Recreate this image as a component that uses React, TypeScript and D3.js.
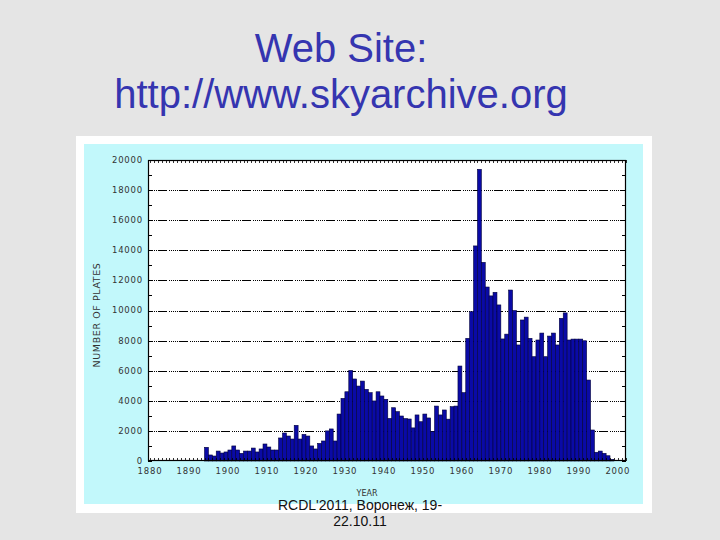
import React from 'react';
import * as d3 from 'd3';

// ---- data ----
const firstYear = 1894;
const plateCounts = [
  910, 400, 330, 660, 530, 600, 730, 1000, 730, 510, // 1894-1903
  660, 660, 860, 600, 800, 1130, 930, 730, 730, 1530, // 1904-1913
  1860, 1660, 1460, 2370, 1460, 1770, 1660, 1000, 800, 1170, // 1914-1923
  1330, 2000, 2130, 1330, 3120, 4160, 4600, 6020, 5450, 4980, // 1924-1933
  5310, 4760, 4540, 3990, 4600, 4320, 4100, 2830, 3540, 3280, // 1934-1943
  2990, 2820, 2790, 2200, 3060, 2610, 3120, 2860, 1950, 3650, // 1944-1953
  3060, 3390, 2780, 3610, 3650, 6310, 4540, 8150, 9920, 14290, // 1954-1963
  19380, 13200, 11560, 10970, 11210, 10370, 8110, 8430, 11360, 10000, // 1964-1973
  7710, 9370, 9560, 8150, 6930, 8040, 8500, 6930, 8300, 8500, // 1974-1983
  7710, 9480, 9840, 8040, 8100, 8100, 8100, 7990, 5380, 2060, // 1984-1993
  580, 660, 510, 350, 110, // 1994-1998
];
const years = plateCounts.map((_, i) => firstYear + i);
const xTickLabels = [1880, 1890, 1900, 1910, 1920, 1930, 1940, 1950, 1960, 1970, 1980, 1990, 2000];
const yTickLabels = [0, 2000, 4000, 6000, 8000, 10000, 12000, 14000, 16000, 18000, 20000];
const titleLines = ['Web Site:', 'http://www.skyarchive.org'];
const footerLines = ["RCDL'2011, Воронеж, 19-", '22.10.11'];
const xAxisTitle = 'YEAR';
const yAxisTitle = 'NUMBER OF PLATES';

// ---- layout ----
const W = 720, H = 540;
const plot = { left: 148, right: 626, top: 160, bottom: 461 };
const xDomain: [number, number] = [1879.5, 2002.1];

export default function App() {
  const x = d3.scaleLinear().domain(xDomain).range([plot.left, plot.right]);
  const y = d3.scaleLinear().domain([0, 20000]).range([plot.bottom, plot.top]);
  const minorY = d3.range(0, 20001, 1000);
  const minorX = d3.range(Math.ceil(xDomain[0]), Math.floor(xDomain[1]) + 1, 1);
  const font = "'Liberation Sans', Arial, Helvetica, sans-serif";
  const axisFont = "'DejaVu Sans', 'Liberation Sans', sans-serif";

  return (
    <svg width={W} height={H} style={{ position: 'absolute', left: 0, top: 0 }} xmlns="http://www.w3.org/2000/svg">
      <rect x={0} y={0} width={W} height={H} fill="#e5e5e5" />
      {titleLines.map((t, i) => (
        <text key={i} x={341} y={62 + i * 46} textAnchor="middle" fontFamily={font} fontSize={40} fill="#3535b0">{t}</text>
      ))}
      <rect x={76} y={136} width={576} height={377} fill="#ffffff" />
      <rect x={84} y={144} width={559} height={360} fill="#c2f8fb" />
      <rect x={plot.left} y={plot.top} width={plot.right - plot.left} height={plot.bottom - plot.top} fill="#ffffff" />

      {/* gridlines */}
      {yTickLabels.filter(v => v > 0 && v < 20000).map(v => (
        <line key={'g' + v} x1={plot.left} x2={plot.right} y1={Math.round(y(v)) + 0.5} y2={Math.round(y(v)) + 0.5}
          stroke="#000" strokeWidth={1} strokeDasharray="1 1 1 1 1 1 1 1 1 1 9 2" />
      ))}

      {/* bars */}
      {plateCounts.map((v, i) => (
        <rect key={'b' + i} x={x(years[i])} y={y(v)} width={x(years[i] + 1) - x(years[i])} height={y(0) - y(v)}
          fill="#0a0aa6" stroke="#00003a" strokeWidth={0.6} />
      ))}

      {/* minor ticks */}
      {minorY.map(v => (
        <g key={'my' + v}>
          <line x1={plot.left} x2={plot.left + 4} y1={Math.round(y(v)) + 0.5} y2={Math.round(y(v)) + 0.5} stroke="#000" strokeWidth={1} />
          <line x1={plot.right - 4} x2={plot.right} y1={Math.round(y(v)) + 0.5} y2={Math.round(y(v)) + 0.5} stroke="#000" strokeWidth={1} />
        </g>
      ))}
      {minorX.map(v => (
        <g key={'mx' + v}>
          <line x1={Math.round(x(v)) + 0.5} x2={Math.round(x(v)) + 0.5} y1={plot.top} y2={plot.top + 3} stroke="#000" strokeWidth={0.8} />
          <line x1={Math.round(x(v)) + 0.5} x2={Math.round(x(v)) + 0.5} y1={plot.bottom - 3} y2={plot.bottom} stroke="#000" strokeWidth={0.8} />
        </g>
      ))}

      {/* frame */}
      <rect x={plot.left + 0.5} y={plot.top + 0.5} width={plot.right - plot.left - 1} height={plot.bottom - plot.top - 1}
        fill="none" stroke="#000" strokeWidth={1.2} />

      {/* tick labels */}
      {yTickLabels.map(v => (
        <text key={'yl' + v} x={143} y={y(v)} dy="0.35em" textAnchor="end" fontFamily={axisFont} fontSize={8.5}
          letterSpacing={0.8} fill="#333">{v}</text>
      ))}
      {xTickLabels.map(v => (
        <text key={'xl' + v} x={x(v)} y={474} textAnchor="middle" fontFamily={axisFont} fontSize={8.5}
          letterSpacing={0.8} fill="#333">{v}</text>
      ))}
      <text x={367} y={496} textAnchor="middle" fontFamily={axisFont} fontSize={8} fill="#333">{xAxisTitle}</text>
      <text transform={`translate(100,315) rotate(-90)`} textAnchor="middle" fontFamily={axisFont} fontSize={9.5}
        letterSpacing={0.6} fill="#333">{yAxisTitle}</text>

      {footerLines.map((t, i) => (
        <text key={'f' + i} x={360} y={510 + i * 16} textAnchor="middle" fontFamily={font} fontSize={14} fill="#111">{t}</text>
      ))}
    </svg>
  );
}
